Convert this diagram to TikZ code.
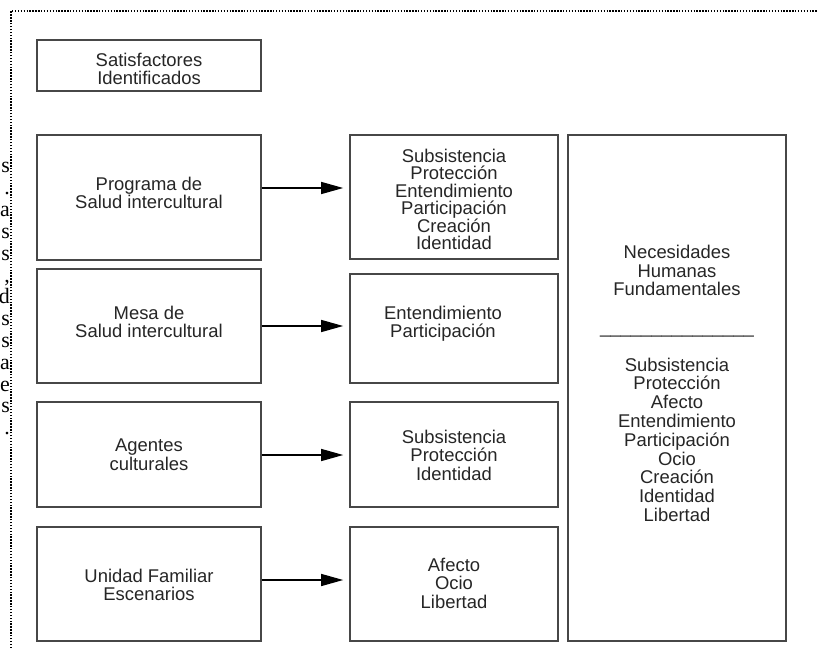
\documentclass[tikz,border=0pt]{standalone}
\usepackage{fontspec}
\setmainfont{Liberation Sans}
\newfontfamily\fragserif{Liberation Serif}
\usetikzlibrary{arrows.meta}
\begin{document}
\begin{tikzpicture}[x=1bp,y=-1bp,
  box/.style={draw=black!72,line width=1.6bp,fill=white,inner sep=0pt},
  txt/.style={inner sep=0pt,anchor=north,align=center,text=black!85,
    font=\fontsize{18.5}{18.5}\selectfont,execute at begin node=\strut},
  arr/.style={draw=black,line width=1.3bp,-{Triangle[length=22bp,width=12bp]}},
  frag/.style={inner sep=0pt,anchor=base east,text=black,font=\fragserif\fontsize{22}{22}\selectfont},
  dotline/.style={draw=black,line width=1.4bp,dash pattern=on 1.4bp off 1.5bp}]
\useasboundingbox (0,0) rectangle (817,648);
% dotted frame
\coordinate (fb) at (11,648);
\coordinate (fc) at (11,11);
\coordinate (fr) at (817,11);
\draw[dotline] (fb) -- (fc) -- (fr);
% cut-off text of neighbouring column
\foreach \i/\c in {1/s,2/.,3/a,4/s,5/s,6/{,},7/d,8/s,9/s,10/a,11/e,12/s,13/.}{
  \node[frag] (f\i) at (10,{173+21.8*(\i-1)}) {\c};
}
% left boxes
\node[box,minimum width=224bp,minimum height=51bp] (sat) at (149,65.5) {};
\node[box,minimum width=224bp,minimum height=125bp] (L1) at (149,197.5) {};
\node[box,minimum width=224bp,minimum height=114bp] (L2) at (149,326) {};
\node[box,minimum width=224bp,minimum height=105bp] (L3) at (149,454.5) {};
\node[box,minimum width=224bp,minimum height=114bp] (L4) at (149,584) {};
% middle boxes
\node[box,minimum width=208bp,minimum height=124bp] (M1) at (454,197) {};
\node[box,minimum width=208bp,minimum height=109bp] (M2) at (454,328.5) {};
\node[box,minimum width=208bp,minimum height=105bp] (M3) at (454,454.5) {};
\node[box,minimum width=208bp,minimum height=114bp] (M4) at (454,584) {};
% right box
\node[box,minimum width=218bp,minimum height=506bp] (R) at (677,388) {};
% texts
\node[txt] (tsat) at (149,53) {Satisfactores\\Identificados};
\node[txt] (tL1) at (149,177) {Programa de\\Salud intercultural};
\node[txt] (tL2) at (149,306) {Mesa de\\Salud intercultural};
\node[txt] (tL3) at (149,439) {Agentes\\culturales};
\node[txt] (tL4) at (149,569) {Unidad Familiar\\Escenarios};
\node[txt,font=\fontsize{18.5}{17.6}\selectfont] (tM1) at (454,148.7)
  {Subsistencia\\Protección\\Entendimiento\\Participación\\Creación\\Identidad};
\node[txt] (tM2) at (443,306) {Entendimiento\\Participación};
\node[txt] (tM3) at (454,430) {Subsistencia\\Protección\\Identidad};
\node[txt] (tM4) at (454,558) {Afecto\\Ocio\\Libertad};
\node[txt,font=\fontsize{18.5}{18.86}\selectfont] (tR) at (677,244.8)
  {Necesidades\\Humanas\\Fundamentales\\\mbox{}\\
   \_\_\_\_\_\_\_\_\_\_\_\_\_\_\_\\\mbox{}\\
   Subsistencia\\Protección\\Afecto\\Entendimiento\\Participación\\Ocio\\Creación\\Identidad\\Libertad};
% arrows
\coordinate (y1) at (0,188);
\coordinate (y2) at (0,326);
\coordinate (y3) at (0,455);
\coordinate (y4) at (0,580);
\draw[arr,shorten >=6bp] (L1.east |- y1) -- (M1.west |- y1);
\draw[arr,shorten >=6bp] (L2.east |- y2) -- (M2.west |- y2);
\draw[arr,shorten >=6bp] (L3.east |- y3) -- (M3.west |- y3);
\draw[arr,shorten >=6bp] (L4.east |- y4) -- (M4.west |- y4);
\end{tikzpicture}
\end{document}
